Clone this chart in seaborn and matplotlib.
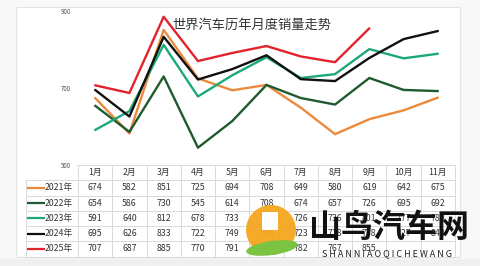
import numpy as np
import pandas as pd
import matplotlib
matplotlib.use("Agg")
import matplotlib.pyplot as plt
import seaborn as sns
from matplotlib.patches import Rectangle, Circle, Ellipse

months = ["1月", "2月", "3月", "4月", "5月", "6月", "7月", "8月", "9月", "10月", "11月"]
years = ["2021年", "2022年", "2023年", "2024年", "2025年"]
s2021 = [674, 582, 851, 725, 694, 708, 649, 580, 619, 642, 675]
s2022 = [654, 586, 730, 545, 614, 708, 674, 657, 726, 695, 692]
s2023 = [591, 640, 812, 678, 733, 780, 726, 736, 801, 777, 789]
s2024 = [695, 626, 833, 722, 749, 785, 723, 718, 778, 827, 848]
s2025 = [707, 687, 885, 770, 791, 809, 782, 767, 855]
series = [s2021, s2022, s2023, s2024, s2025]
colors = ["#ec8a3c", "#1f5a30", "#1ba97a", "#111111", "#e2232b"]
yticks = [500, 700, 900]
title = "世界汽车历年月度销量走势"

sns.set_theme(style="white")
plt.rcParams['font.family'] = ['Noto Sans CJK SC', 'DejaVu Sans']

W, H = 480, 266
fig = plt.figure(figsize=(W / 100, H / 100), dpi=100, facecolor="#f8f8f8")

def fx(px):
    return px / W

def fy(py):
    return 1 - py / H

# white panel
panel = fig.add_axes([0, 0, 1, 1], zorder=0)
panel.set_xlim(0, W)
panel.set_ylim(H, 0)
panel.axis("off")
panel.add_patch(Rectangle((16, 7), 444, 250, facecolor="white", edgecolor="#e4e4e4", lw=0.8))
panel.add_patch(Rectangle((0, 259), W, 7, facecolor="#f0f0f0", edgecolor="none"))

rows = []
for yr, vals in zip(years, series):
    for m, v in zip(months, vals):
        rows.append({"month": m, "year": yr, "value": v, "x": months.index(m)})
df = pd.DataFrame(rows)

x0, x1 = 78, 455
ax = fig.add_axes([fx(x0), fy(165), fx(x1 - x0), (165 - 11) / H], zorder=2)
ax.patch.set_alpha(0)
sns.lineplot(data=df, x="x", y="value", hue="year", palette=dict(zip(years, colors)),
             linewidth=1.7, ax=ax, legend=False, sort=False)
ax.set_xlim(-0.5, len(months) - 0.5)
ax.set_ylim(500, 900)
ax.set_yticks(yticks)
ax.set_yticklabels([str(t) for t in yticks], fontsize=4.5, color="#555555")
ax.set_xticks([])
ax.tick_params(axis="y", length=0, pad=5)
ax.set_xlabel("")
ax.set_ylabel("")
for sp in ax.spines.values():
    sp.set_visible(False)

fig.text(fx(252), fy(25), title, ha="center", va="center", fontsize=9.5, color="#333333")

# table
ty0, ty1 = 165, 256.5
tab = fig.add_axes([fx(x0), fy(ty1), fx(x1 - x0), (ty1 - ty0) / H], zorder=3)
tab.set_xlim(-0.5, len(months) - 0.5)
tab.set_ylim(len(years) + 1, 0)
tab.axis("off")
gc = "#d9d9d9"
left = -0.5 - (x0 - 26) / ((x1 - x0) / len(months))
nrow = len(years) + 1
tab.plot([-0.5, len(months) - 0.5], [0, 0], color=gc, lw=0.7, clip_on=False)
for r in range(1, nrow + 1):
    tab.plot([left, len(months) - 0.5], [r, r], color=gc, lw=0.7, clip_on=False)
for c in range(len(months) + 1):
    tab.plot([c - 0.5, c - 0.5], [0, nrow], color=gc, lw=0.7, clip_on=False)
tab.plot([left, left], [1, nrow], color=gc, lw=0.7, clip_on=False)
tc = "#333333"
for c, m in enumerate(months):
    tab.text(c, 0.5, m, ha="center", va="center", fontsize=6.3, color=tc)
for r, (yr, vals, col) in enumerate(zip(years, series, colors)):
    yy = r + 1.5
    tab.plot([left + 0.03, left + 0.55], [yy, yy], color=col, lw=1.6, clip_on=False,
             solid_capstyle="butt")
    tab.text(left + 0.55, yy, yr, ha="left", va="center", fontsize=6.3, color=tc)
    for c, v in enumerate(vals):
        tab.text(c, yy, str(v), ha="center", va="center", fontsize=6.3, color=tc)

# watermark
wm = fig.add_axes([0, 0, 1, 1], zorder=5)
wm.set_xlim(0, W)
wm.set_ylim(H, 0)
wm.axis("off")
wm.add_patch(Circle((271, 230), 25, facecolor="#f5a71d", edgecolor="none", alpha=0.95))
wm.add_patch(Rectangle((262, 212), 16, 18, facecolor="white", edgecolor="none"))
wm.add_patch(Ellipse((272, 248), 52, 14, angle=-8, facecolor="#7cc243", edgecolor="none"))
wm.text(389, 228, "山鸟汽车网", ha="center", va="center", fontsize=23, fontweight="bold",
        color="#111111")
wm.text(387, 254, " ".join("SHANNIAOQICHEWANG"), ha="center", va="center",
        fontsize=6.5, color="#222222")

fig.savefig("out.png", dpi=100, facecolor=fig.get_facecolor())
